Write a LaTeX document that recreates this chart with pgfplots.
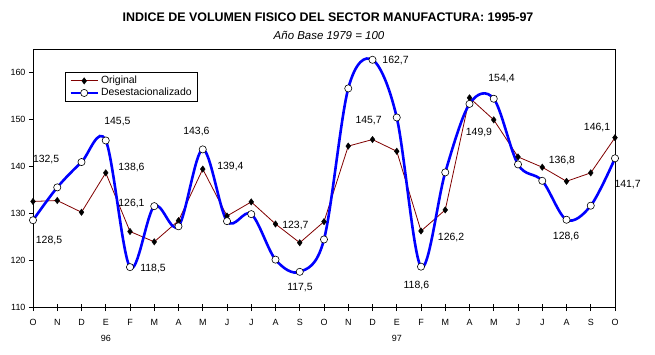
\documentclass[border=0pt]{standalone}
\usepackage{fontspec}
\setmainfont{Liberation Sans}
\usepackage{pgfplots}
\pgfplotsset{compat=1.18}
\definecolor{brownline}{RGB}{128,0,0}
\definecolor{blueline}{RGB}{0,0,255}
\pgfplotstableread{
x y
0 132.5
1 132.7
2 130.2
3 138.6
4 126.1
5 123.9
6 128.4
7 139.4
8 129.4
9 132.4
10 127.7
11 123.7
12 128.2
13 144.3
14 145.7
15 143.2
16 126.2
17 130.7
18 154.6
19 149.9
20 142.0
21 139.8
22 136.8
23 138.6
24 146.1
}\original
\pgfplotstableread{
x y
0 128.5
1 135.5
2 140.9
3 145.5
4 118.5
5 131.5
6 127.2
7 143.6
8 128.3
9 129.8
10 120.1
11 117.5
12 124.4
13 156.6
14 162.7
15 150.4
16 118.6
17 138.7
18 153.3
19 154.4
20 140.4
21 136.9
22 128.6
23 131.6
24 141.7
}\desest
\begin{document}
\begin{tikzpicture}[x=1bp,y=1bp]
\useasboundingbox (0,0) rectangle (655,354);
\begin{axis}[
  at={(33bp,47bp)}, anchor=south west,
  scale only axis, width=582bp, height=258bp,
  xmin=0, xmax=24, ymin=110, ymax=165,
  clip=false,
  xtick={0,...,24},
  xticklabels={O,N,D,E,F,M,A,M,J,J,A,S,O,N,D,E,F,M,A,M,J,J,A,S,O},
  ytick={110,120,...,160},
  xtick pos=bottom, ytick pos=left,
  tick align=outside, major tick length=4bp,
  extra x ticks={0,...,24}, extra x tick labels={},
  extra x tick style={tick align=inside, major tick length=3bp},
  axis line style={black, line width=0.8bp},
  every tick/.style={black, line width=0.8bp},
  tick label style={font=\fontsize{9}{10}\selectfont},
  xticklabel style={yshift=-4.5bp},
  /pgf/number format/assume math mode=true,
  legend style={at={(0.055,0.911)}, anchor=north west, draw=black, line width=0.8bp,
    font=\fontsize{10.5}{11}\selectfont, inner xsep=4bp, inner ysep=2bp, row sep=-1bp,
    /tikz/every even column/.append style={column sep=3bp}},
  legend cell align=left,
  legend image code/.code={\draw[#1] (0bp,0bp) -- (27bp,0bp); \draw[#1, only marks] plot coordinates {(13.5bp,0bp)};},
]
\addplot[color=brownline, line width=0.8bp, mark=diamond*, mark size=3.2bp,
  mark options={fill=black, draw=black, line width=0.4bp}] table {\original};
\addlegendentry{Original}
\addplot[color=blueline, line width=2.6bp, smooth, tension=0.55, mark=*, mark size=3.6bp,
  mark options={fill=white, draw=black, line width=0.6bp}] table {\desest};
\addlegendentry{Desestacionalizado}
\begin{scope}[every node/.style={font=\fontsize{10.5}{11}\selectfont}]
\node at (axis cs:0.54,141.5) {132,5};
\node at (axis cs:0.66,124.2) {128,5};
\node at (axis cs:3.48,149.6) {145,5};
\node at (axis cs:4.06,139.8) {138,6};
\node at (axis cs:4.06,132.1) {126,1};
\node at (axis cs:4.95,118.2) {118,5};
\node at (axis cs:6.74,147.5) {143,6};
\node at (axis cs:8.14,140.0) {139,4};
\node at (axis cs:10.82,127.4) {123,7};
\node at (axis cs:11.01,114.2) {117,5};
\node at (axis cs:13.84,149.8) {145,7};
\node at (axis cs:14.95,162.6) {162,7};
\node at (axis cs:15.81,114.6) {118,6};
\node at (axis cs:17.24,124.9) {126,2};
\node at (axis cs:19.32,158.8) {154,4};
\node at (axis cs:18.39,147.1) {149,9};
\node at (axis cs:21.81,141.3) {136,8};
\node at (axis cs:21.98,125.1) {128,6};
\node at (axis cs:23.26,148.3) {146,1};
\node at (axis cs:24.52,136.0) {141,7};
\end{scope}
\node[font=\fontsize{9}{10}\selectfont, anchor=base] at (axis cs:3,110) [yshift=-34bp] {96};
\node[font=\fontsize{9}{10}\selectfont, anchor=base] at (axis cs:15,110) [yshift=-34bp] {97};
\end{axis}
\node[anchor=base, font=\fontsize{12.5}{13}\selectfont\bfseries] at (328,332.3) {INDICE DE VOLUMEN FISICO DEL SECTOR MANUFACTURA: 1995-97};
\node[anchor=base, font=\fontsize{11.5}{12}\selectfont\itshape] at (329,315) {Año Base 1979 = 100};
\end{tikzpicture}
\end{document}
